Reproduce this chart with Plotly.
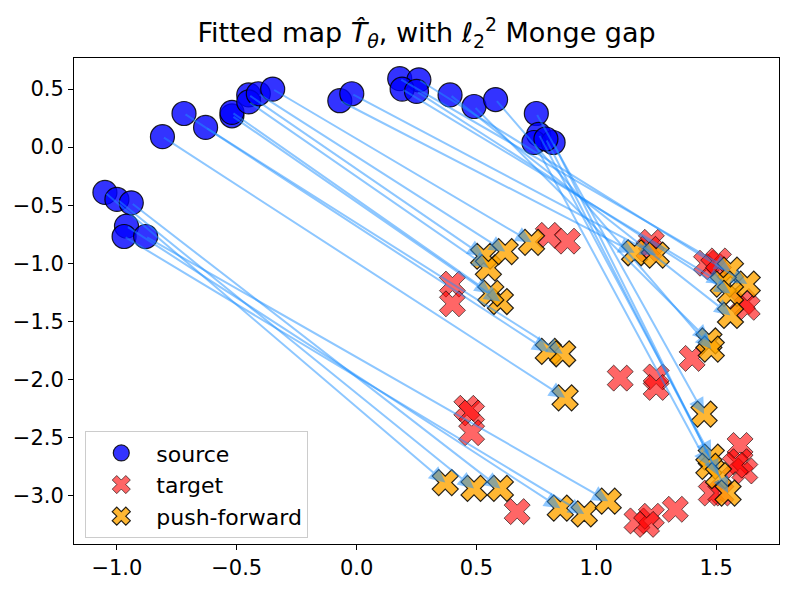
import plotly.graph_objects as go

# Source points
src_x = [-0.81, -0.72, -0.63, -0.52, -0.52, -0.45, -0.45, -0.41, -0.35, -0.07, -0.02,
         -1.05, -1.00, -0.94, -0.96, -0.97, -0.88,
         0.18, 0.26, 0.19, 0.25, 0.39, 0.49, 0.58, 0.75, 0.76, 0.74, 0.82, 0.79]
src_y = [0.09, 0.29, 0.17, 0.27, 0.30, 0.45, 0.39, 0.46, 0.50, 0.40, 0.46,
         -0.39, -0.45, -0.48, -0.68, -0.77, -0.77,
         0.59, 0.58, 0.50, 0.48, 0.45, 0.35, 0.41, 0.29, 0.11, 0.04, 0.04, 0.07]

# Push-forward points (same order as sources)
pf_x = [0.87, 0.80, 0.86, 0.60, 0.56, 0.53, 0.55, 0.62, 0.73, 1.16, 1.25,
        0.37, 0.49, 0.60, 0.85, 0.95, 1.05,
        1.56, 1.63, 1.53, 1.56, 1.56, 1.47, 1.48, 1.45, 1.48, 1.47, 1.51, 1.55]
pf_y = [-2.16, -1.76, -1.78, -1.33, -1.26, -0.94, -1.04, -0.90, -0.82, -0.91, -0.93,
        -2.89, -2.94, -2.94, -3.11, -3.16, -3.05,
        -1.06, -1.18, -1.18, -1.26, -1.45, -1.67, -1.74, -2.30, -2.67, -2.75, -2.83, -2.98]

# Target points
tgt_x = [0.80, 0.88, 0.40, 0.40, 1.23, 1.22, 1.46, 1.49, 1.51, 1.61, 1.63, 1.40,
         1.10, 1.25, 1.25, 0.46, 0.48, 0.48, 0.67, 1.17, 1.23, 1.21, 1.33,
         1.60, 1.60, 1.62, 1.48, 1.52, 1.58]
tgt_y = [-0.76, -0.81, -1.18, -1.35, -0.82, -0.88, -1.00, -1.03, -0.98, -1.33, -1.38, -1.82,
         -1.99, -1.98, -2.07, -2.25, -2.29, -2.46, -3.14, -3.22, -3.18, -3.25, -3.12,
         -2.57, -2.71, -2.79, -2.98, -2.98, -2.74]

fig = go.Figure()
fig.add_trace(go.Scatter(
    x=src_x, y=src_y, mode="markers", name="source",
    marker=dict(symbol="circle", size=24, color="rgba(0,0,255,0.8)",
                line=dict(color="rgba(0,0,0,0.85)", width=1.2))))
fig.add_trace(go.Scatter(
    x=tgt_x, y=tgt_y, mode="markers", name="target",
    marker=dict(symbol="x", size=23, color="rgba(255,0,0,0.6)",
                line=dict(color="rgba(0,0,0,0.6)", width=1))))
fig.add_trace(go.Scatter(
    x=pf_x, y=pf_y, mode="markers", name="push-forward",
    marker=dict(symbol="x", size=23, color="rgba(255,165,0,0.8)",
                line=dict(color="rgba(0,0,0,0.85)", width=1.2))))

for sx, sy, px, py in zip(src_x, src_y, pf_x, pf_y):
    fig.add_annotation(
        x=px, y=py, ax=sx, ay=sy, xref="x", yref="y", axref="x", ayref="y",
        showarrow=True, arrowhead=2, arrowsize=1.6, arrowwidth=2,
        arrowcolor="rgba(30,144,255,0.5)", text="", standoff=0, startstandoff=0)

axis_common = dict(showgrid=False, zeroline=False, showline=True, linecolor="black",
                   linewidth=1, mirror=True, ticks="outside", ticklen=5, tickwidth=1,
                   tickcolor="black", tickfont=dict(family="DejaVu Sans", size=21, color="black"))

fig.update_layout(
    width=790, height=590,
    margin=dict(l=74, r=10, t=58, b=40),
    paper_bgcolor="white", plot_bgcolor="white",
    title=dict(text="Fitted map <i>T̂</i><sub><i>θ</i></sub>, with <i>ℓ</i><sub>2</sub><sup>2</sup> Monge gap",
               x=0.54, xanchor="center", y=0.945, yanchor="middle",
               font=dict(family="DejaVu Sans", size=27, color="black")),
    xaxis=dict(range=[-1.179, 1.7625], tickvals=[-1.0, -0.5, 0.0, 0.5, 1.0, 1.5],
               ticktext=["−1.0", "−0.5", "0.0", "0.5", "1.0", "1.5"], **axis_common),
    yaxis=dict(range=[-3.419, 0.768], tickvals=[0.5, 0.0, -0.5, -1.0, -1.5, -2.0, -2.5, -3.0],
               ticktext=["0.5", "0.0", "−0.5", "−1.0", "−1.5", "−2.0", "−2.5", "−3.0"], **axis_common),
    legend=dict(x=0.016, y=0.012, xanchor="left", yanchor="bottom",
                bordercolor="#cccccc", borderwidth=1, bgcolor="rgba(255,255,255,0.8)",
                font=dict(family="DejaVu Sans", size=22, color="black"),
                itemsizing="trace", itemwidth=60, tracegroupgap=0),
    showlegend=True,
)

fig.write_html("out.html")
